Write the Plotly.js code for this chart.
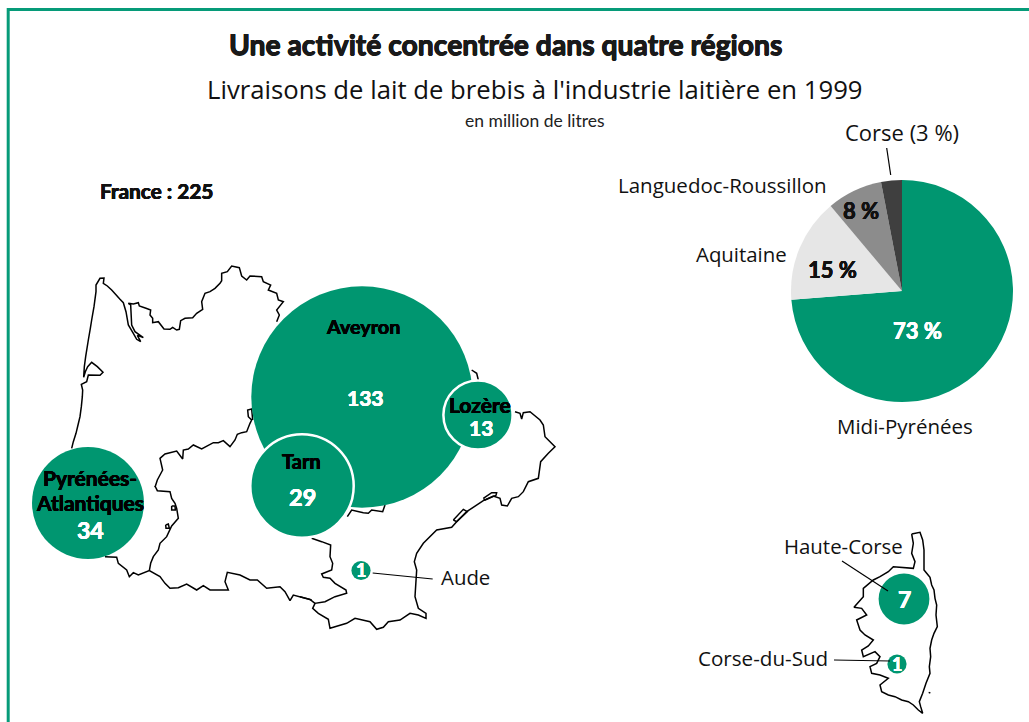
<!DOCTYPE html>
<html><head><meta charset="utf-8">
<script src="https://cdn.plot.ly/plotly-3.0.1.min.js"></script>
<style>html,body{margin:0;padding:0;background:#fff;overflow:hidden}#c{width:1029px;height:722px}</style>
</head><body><div id="c"></div>
<script>
// Pie: share of deliveries by region (%)
const pieRegions = ['Midi-Pyrénées','Aquitaine','Languedoc-Roussillon','Corse'];
const pieShares = [73,15,8,3];
const pieColors = ['#009670','#E6E6E6','#8C8C8C','#3F3F3F'];

// Bubbles: million litres by département
const bubbleNames = ['Aveyron','Tarn','Lozère','Pyrénées-Atlantiques','Aude','Haute-Corse','Corse-du-Sud'];
const bubbleValues = [133,29,13,34,1,7,1];
const bubbleX = [362,302,478,88,361,904,897];
const bubbleY = [397,486,415,503,570.5,599,664];
const bubbleEdge = [0,2.5,2.5,0,0,0,0];

// Map outlines (x, y map units)
const z1 = p => p.map(q => [20+q[0]/3, 250+q[1]/3]);
const z2 = p => p.map(q => [20+q[0]/3, 440+q[1]/3]);
const z3 = p => p.map(q => [300+q[0]/3, 370+q[1]/3]);
const z4 = p => p.map(q => [780+q[0]/3, 520+q[1]/3]);
const outlines = [
 z1([[155,595],[160,575],[168,550],[174,525],[180,500],[184,470],[187,440],[188,420],[184,403],[200,395],[205,375],[240,376],[249,367],[232,350],[215,337],[203,350],[196,365],[191,382],[193,350],[197,320],[205,270],[211,235],[215,210],[222,170],[228,125],[228,105],[240,85],[252,84],[250,100],[262,108],[275,120],[300,148],[310,158],[318,185],[325,225],[340,250],[350,268],[362,275],[352,256],[370,263],[345,245],[335,225],[332,165],[325,160],[340,162],[355,158],[358,168],[378,175],[392,180],[390,195],[398,205],[398,218],[415,215],[432,237],[450,238],[458,232],[470,240],[478,238],[482,212],[495,205],[518,203],[530,190],[548,178],[545,155],[555,130],[570,125],[585,115],[600,100],[605,92],[605,70],[622,65],[635,48],[658,53],[665,78],[680,90],[690,78],[725,80],[730,95],[752,105],[745,120],[770,130],[775,150],[790,155],[770,180],[778,195],[770,215]]),
 z1([[698,510],[695,477],[683,480],[685,500],[695,510],[690,520],[680,545],[665,548],[652,553],[645,570],[630,590],[610,572],[595,578],[580,578],[545,597],[520,585],[505,597],[490,600],[488,627],[470,603],[435,612],[420,625],[428,660],[412,690],[405,712]]),
 z2([[405,138],[412,152],[450,155],[455,175],[465,190],[470,205],[475,235],[455,258],[440,290],[420,310],[415,330],[400,350],[392,370],[388,392]]),
 z2([[255,350],[290,352],[295,370],[320,390],[328,410],[340,398],[355,405],[388,392],[420,410],[435,430],[450,445],[475,443],[500,432],[530,450],[550,437],[570,450],[625,450],[615,425],[622,397],[660,405],[690,420],[712,420],[740,445],[780,440],[795,455],[810,482],[820,465],[875,480]]),
 z2([[437,255],[445,252],[448,265],[438,265],[437,255]]),
 z2([[455,198],[465,198],[466,210],[455,210],[455,198]]),
 z3([[515,0],[530,10],[535,30]]),
 z3([[645,125],[660,130],[665,147],[670,128],[690,125],[720,150],[730,165],[735,200],[765,230],[745,250],[722,275],[715,325],[685,335],[670,365],[655,380],[635,385],[622,408],[605,405],[600,385],[580,378],[550,392],[500,425],[470,455],[455,472],[410,480],[370,520],[350,550],[343,575],[350,600],[345,680],[355,715],[378,730],[378,745],[355,735],[330,730],[300,750],[265,755],[250,772],[230,778],[210,755],[165,745],[140,760],[105,770],[90,775],[85,748],[55,730],[38,715],[45,700],[75,695],[105,680],[140,670],[138,660],[105,640],[90,625],[70,622],[65,612],[95,600],[98,580],[90,560],[92,525],[65,515],[35,505]]),
 z3([[0,680],[30,688],[45,700]]),
 z3([[142,440],[155,420],[190,428],[205,430],[215,420],[248,425],[255,405]]),
 z3([[460,450],[490,418],[502,425],[470,455],[460,450]]),
 z3([[550,385],[575,368],[590,368],[588,376],[555,390],[550,385]]),
 z4([[395,42],[420,37],[428,60],[432,90],[432,150],[440,160],[450,172],[455,195],[462,210],[465,235],[470,255],[468,285],[472,320],[462,340],[455,360],[450,385],[452,410],[448,440],[450,460],[438,490],[428,520],[418,545],[422,560],[428,580],[415,570],[400,555],[385,545],[365,540],[345,530],[325,525],[305,515],[300,495],[325,475],[300,465],[275,460],[270,440],[290,430],[300,410],[285,395],[250,410],[245,390],[265,378],[280,360],[255,345],[240,330],[230,300],[260,285],[245,265],[222,262],[250,230],[250,205],[280,180],[300,170],[325,155],[340,140],[400,145],[405,125],[395,100],[400,70],[395,42]]),
 z4([[446,517],[451,519]])
];
const leaders = [
 [[372.7,573],[432.7,579]],
 [[842,561],[888,591]],
 [[834,660],[890,661]],
 [[886.7,148],[890.7,175]]
];

const GREEN='#009670';
const traces = [];
outlines.forEach(o => traces.push({type:'scatter',mode:'lines',x:o.map(q=>q[0]),y:o.map(q=>q[1]),
  line:{color:'#000',width:1.5,simplify:false},hoverinfo:'skip',showlegend:false}));
traces.push({type:'scatter',mode:'markers',x:bubbleX,y:bubbleY,text:bubbleNames,
  marker:{size:bubbleValues.map(v=>2*9.6*Math.sqrt(v)),sizemode:'diameter',color:GREEN,opacity:1,line:{color:'#fff',width:bubbleEdge}},showlegend:false,cliponaxis:false});
leaders.forEach(o => traces.push({type:'scatter',mode:'lines',x:o.map(q=>q[0]),y:o.map(q=>q[1]),
  line:{color:'#000',width:1.2},hoverinfo:'skip',showlegend:false}));
traces.push({type:'pie',labels:pieRegions,values:pieShares,sort:false,direction:'clockwise',rotation:0,
  marker:{colors:pieColors,line:{width:0}},textinfo:'none',showlegend:false,
  domain:{x:[791/1029,1013/1029],y:[1-402/722,1-180/722]}});

const bold='Lato, "Noto Sans", sans-serif', reg='"Open Sans", "Noto Sans", sans-serif';
function T(text,x,y,size,color,family,weight,heavy){
  const c=color||'#111';
  return {text:text,x:x,y:y,xref:'x',yref:'y',showarrow:false,xanchor:'center',yanchor:'middle',
  font:{size:size,color:c,family:family||reg,weight:weight||400,
    shadow: heavy ? `${heavy}px 0 0 ${c},-${heavy}px 0 0 ${c},0 ${heavy}px 0 ${c},0 -${heavy}px 0 ${c}` : 'none'}};}
const H=(t,x,y,s,c)=>T(t,x,y,s,c,bold,700,0.3);
const ann = [
 T('Une activité concentrée dans quatre régions',505,44,28.3,'#1a1a1a',bold,700,0.5),
 T("Livraisons de lait de brebis à l'industrie laitière en 1999",535,89,25.7,'#111',reg,400),
 T('en million de litres',535,120,17.5,'#222',bold,400),
 T('France : 225',156,190,20.8,'#111',bold,700,0.35),
 H('Aveyron',363,326,19.8,'#000'),
 H('133',365,397,21,'#fff'),
 H('Lozère',480,404,21,'#000'),
 H('13',481,427,21,'#fff'),
 H('Tarn',301,461,20,'#000'),
 H('29',302,497,23.5,'#fff'),
 H('Pyrénées-',90,477,21,'#000'),
 H('Atlantiques',90,502,21,'#000'),
 H('34',90,530,23,'#fff'),
 H('1',361,570,18,'#fff'),
 H('7',904,599,23,'#fff'),
 H('1',897,664,18,'#fff'),
 T('Aude',465,577,20.4),
 T('Haute-Corse',843,546,20.4),
 T('Corse-du-Sud',763,658,20.6),
 T('Corse (3 %)',902,132,22),
 T('Languedoc-Roussillon',722,185,20.5),
 T('Aquitaine',741,254,20.4),
 T('Midi-Pyrénées',905,426,20.5),
 H('15 %',832,269,22,'#111'),
 H('8 %',861,210,22,'#111'),
 H('73 %',917,330,22,'#fff')
];
const layout = {
 width:1029,height:722,margin:{l:0,r:0,t:0,b:0,pad:0},paper_bgcolor:'#fff',plot_bgcolor:'rgba(0,0,0,0)',showlegend:false,
 xaxis:{range:[0,1029],visible:false,fixedrange:true},
 yaxis:{range:[722,0],visible:false,fixedrange:true},
 annotations:ann,
 shapes:[{type:'line',xref:'paper',yref:'paper',x0:8.2/1029,x1:1,y0:1-9.5/722,y1:1-9.5/722,line:{color:'#069B79',width:3}},
         {type:'line',xref:'paper',yref:'paper',x0:8.2/1029,x1:8.2/1029,y0:0,y1:1-8/722,line:{color:'#069B79',width:3}}]
};
Plotly.newPlot('c',traces,layout,{displayModeBar:false,staticPlot:true});
</script></body></html>
